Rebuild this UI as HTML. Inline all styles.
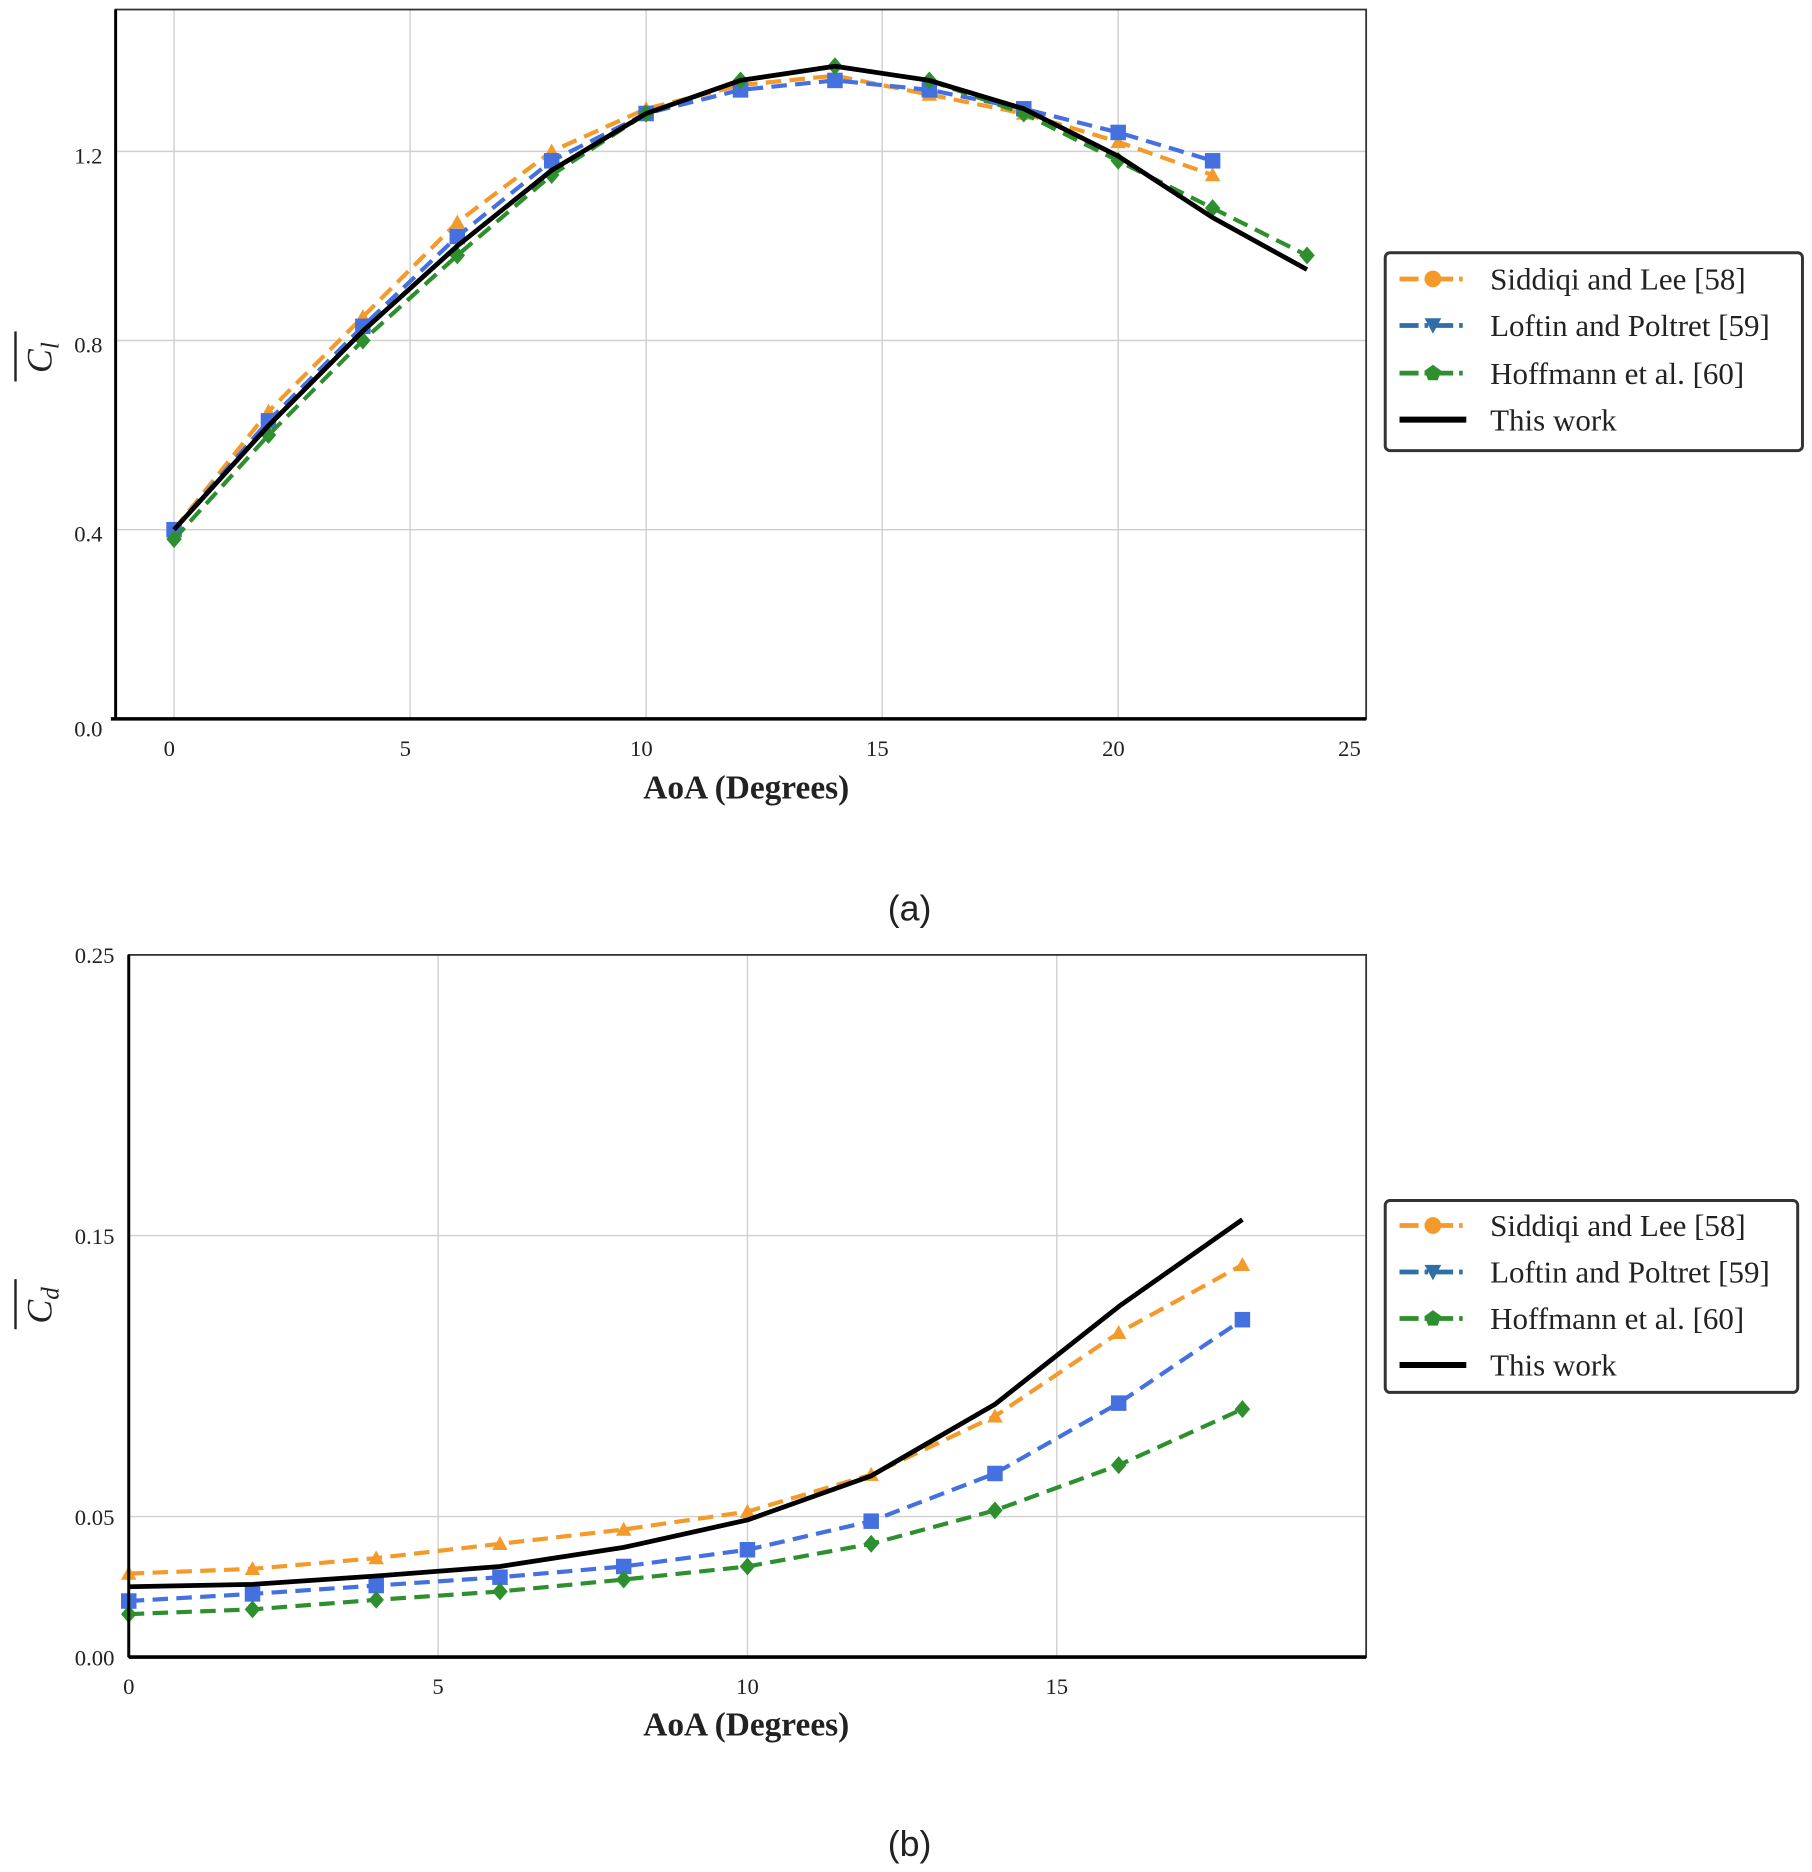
<!DOCTYPE html>
<html><head><meta charset="utf-8"><style>
html,body{margin:0;padding:0;background:#fff}
svg{display:block}
text{font-family:"Liberation Serif",serif;fill:#222}
</style></head><body>
<svg id="s" width="1812" height="1872" viewBox="0 0 1520 1570.3" preserveAspectRatio="none" xmlns="http://www.w3.org/2000/svg">
<g id="g"></g>
</svg>
<script>
const NS="http://www.w3.org/2000/svg";const G=document.getElementById('g');
function el(t,a,txt){const e=document.createElementNS(NS,t);for(const k in a)e.setAttribute(k,a[k]);if(txt!==undefined)e.textContent=txt;G.appendChild(e);return e;}
const OR="#f39a2a",BL="#4470e0",GR="#2e8f2e";
function marker(type,x,y,c){const s=6.5;
 if(type=='t')el('polygon',{points:`${x},${y-s} ${x-s},${y+s*0.8} ${x+s},${y+s*0.8}`,fill:c});
 else if(type=='s')el('rect',{x:x-s,y:y-s,width:2*s,height:2*s,fill:c});
 else el('polygon',{points:`${x},${y-s-1} ${x+s},${y} ${x},${y+s+1} ${x-s},${y}`,fill:c});}
function series(pts,c,type,dash){el('polyline',{points:pts.map(p=>p.join(',')).join(' '),fill:'none',stroke:c,'stroke-width':c=='#000'?4:3.5,'stroke-dasharray':dash?'13,7':'none','stroke-linejoin':'round'});
 if(type)pts.forEach(p=>marker(type,p[0],p[1],c));}
// ---------- Plot a ----------
{const L=97,R=1146,T=8,B=603,X=a=>146+a*39.6,Y=v=>603-v*396.7;
 [0,5,10,15,20,25].forEach(a=>{if(a<25)el('line',{x1:X(a),x2:X(a),y1:T,y2:B,stroke:'#d0d0d0','stroke-width':1.2});});
 [0.4,0.8,1.2].forEach(v=>el('line',{x1:L,x2:R,y1:Y(v),y2:Y(v),stroke:'#d0d0d0','stroke-width':1.2}));
 const xs=[0,2,4,6,8,10,12,14,16,18,20,22,24];
 const o=[0.40,0.65,0.85,1.05,1.20,1.29,1.34,1.36,1.32,1.28,1.22,1.15];
 const b=[0.40,0.63,0.83,1.02,1.18,1.28,1.33,1.35,1.33,1.29,1.24,1.18];
 const g=[0.38,0.60,0.80,0.98,1.15,1.28,1.35,1.38,1.35,1.28,1.18,1.08,0.98];
 const k=[0.40,0.62,0.82,1.00,1.16,1.28,1.35,1.38,1.35,1.29,1.19,1.06,0.95];
 series(o.map((v,i)=>[X(xs[i]),Y(v)]),OR,'t',1);
 series(b.map((v,i)=>[X(xs[i]),Y(v)]),BL,'s',1);
 series(g.map((v,i)=>[X(xs[i]),Y(v)]),GR,'d',1);
 series(k.map((v,i)=>[X(xs[i]),Y(v)]),'#000',null,0);
 el('rect',{x:L,y:T,width:R-L,height:B-T,fill:'none',stroke:'#333','stroke-width':1.5});
 el('line',{x1:L,x2:L,y1:T,y2:B,stroke:'#000','stroke-width':2.5});
 el('line',{x1:L-4,x2:R,y1:B,y2:B,stroke:'#000','stroke-width':3});
 [0,5,10,15,20,25].forEach(a=>el('text',{x:X(a)-4,y:634,'font-size':19,'text-anchor':'middle'},a));
 [[0,'0.0'],[0.4,'0.4'],[0.8,'0.8'],[1.2,'1.2']].forEach(([v,t])=>el('text',{x:86,y:Y(v)+(v==0?15:10),'font-size':19,'text-anchor':'end'},t));
 el('text',{x:626,y:670,'font-size':28,'font-weight':'bold','text-anchor':'middle'},'AoA (Degrees)');
 const yl=el('text',{transform:'translate(43,300) rotate(-90)','font-size':30,'font-style':'italic','text-anchor':'middle'});yl.innerHTML='C<tspan font-size="21" dy="6">l</tspan>';
 el('line',{x1:13,x2:13,y1:278,y2:320,stroke:'#222','stroke-width':2});
 el('text',{x:763,y:772,'font-size':30,'text-anchor':'middle',style:'font-family:"Liberation Sans",sans-serif'},'(a)');
}
// ---------- Plot b ----------
{const L=108,R=1146,T=801,B=1390,X=a=>108+a*51.9,Y=v=>1390-v*2357;
 [5,10,15].forEach(a=>el('line',{x1:X(a),x2:X(a),y1:T,y2:B,stroke:'#d0d0d0','stroke-width':1.2}));
 [0.05,0.15].forEach(v=>el('line',{x1:L,x2:R,y1:Y(v),y2:Y(v),stroke:'#d0d0d0','stroke-width':1.2}));
 const xs=[0,2,4,6,8,10,12,14,16,18];
 const o=[1320,1316,1307,1295,1283,1268,1237,1188,1118,1061];
 const b=[1343,1337,1330,1323,1314,1300,1276,1236,1177,1107];
 const g=[1354,1350,1342,1335,1325,1314,1295,1267,1229,1182];
 const k=[1331,1329,1322,1314,1298,1275,1238,1178,1096,1023];
 series(o.map((v,i)=>[X(xs[i]),v]),OR,'t',1);
 series(b.map((v,i)=>[X(xs[i]),v]),BL,'s',1);
 series(g.map((v,i)=>[X(xs[i]),v]),GR,'d',1);
 series(k.map((v,i)=>[X(xs[i]),v]),'#000',null,0);
 el('rect',{x:L,y:T,width:R-L,height:B-T,fill:'none',stroke:'#333','stroke-width':1.5});
 el('line',{x1:L,x2:L,y1:T,y2:B,stroke:'#000','stroke-width':2.5});
 el('line',{x1:L,x2:R,y1:B,y2:B,stroke:'#000','stroke-width':3});
 [0,5,10,15].forEach(a=>el('text',{x:X(a),y:1421,'font-size':19,'text-anchor':'middle'},a));
 [[0,'0.00'],[0.05,'0.05'],[0.15,'0.15'],[0.25,'0.25']].forEach(([v,t])=>el('text',{x:96,y:Y(v)+7,'font-size':19,'text-anchor':'end'},t));
 el('text',{x:626,y:1456,'font-size':28,'font-weight':'bold','text-anchor':'middle'},'AoA (Degrees)');
 const yl=el('text',{transform:'translate(43,1095) rotate(-90)','font-size':30,'font-style':'italic','text-anchor':'middle'});yl.innerHTML='C<tspan font-size="21" dy="6">d</tspan>';
 el('line',{x1:13,x2:13,y1:1073,y2:1115,stroke:'#222','stroke-width':2});
 el('text',{x:763,y:1557,'font-size':30,'text-anchor':'middle',style:'font-family:"Liberation Sans",sans-serif'},'(b)');
}
// ---------- Legends ----------
function legend(x,y,w,h,ys){
 el('rect',{x:x,y:y,width:w,height:h,rx:4,fill:'#fff',stroke:'#333','stroke-width':2.5});
 const items=[['Siddiqi and Lee [58]',OR,'c'],['Loftin and Poltret [59]','#2f6fa8','v'],['Hoffmann et al. [60]',GR,'p'],['This work','#000',null]];
 items.forEach((it,i)=>{const yy=ys[i];
  if(it[2]){el('line',{x1:x+12,x2:x+68,y1:yy,y2:yy,stroke:it[1],'stroke-width':4,'stroke-dasharray':'16,5,3,5'});
   const cx=x+40;
   if(it[2]=='c')el('circle',{cx:cx,cy:yy,r:7,fill:it[1]});
   else if(it[2]=='v')el('polygon',{points:`${cx-7},${yy-6} ${cx+7},${yy-6} ${cx},${yy+7}`,fill:it[1]});
   else el('polygon',{points:`${cx},${yy-7} ${cx+7},${yy-2} ${cx+4},${yy+6} ${cx-4},${yy+6} ${cx-7},${yy-2}`,fill:it[1]});}
  else el('line',{x1:x+12,x2:x+68,y1:yy,y2:yy,stroke:'#000','stroke-width':5});
  el('text',{x:x+88,y:yy+9,'font-size':26},it[0]);});
}
legend(1162,212,350,166,[234,273,313,352]);
legend(1162,1007,346,161,[1028,1067,1106,1145]);
</script>
</body></html>
